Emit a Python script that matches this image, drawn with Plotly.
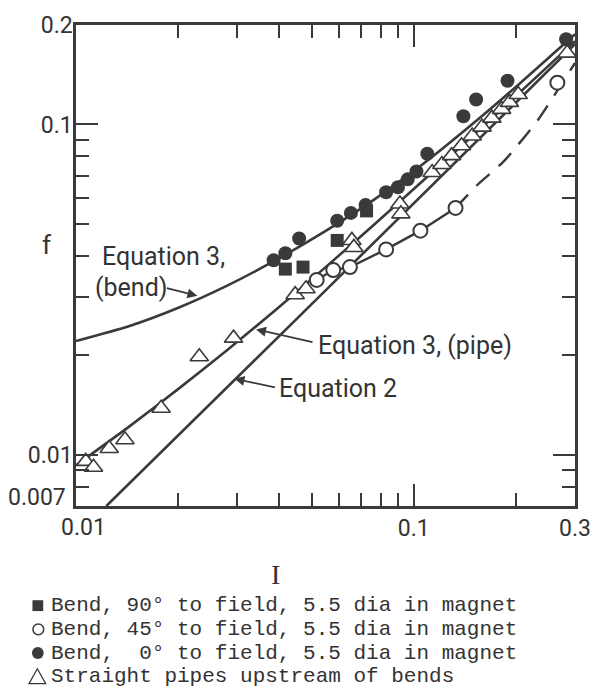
import plotly.graph_objects as go

# ------------------------------------------------------------------ data
# Bend, 90 deg to field (filled squares)
bend90_I = [0.04166, 0.04699, 0.05932, 0.07246]
bend90_f = [0.03649, 0.03700, 0.04456, 0.05474]

# Bend, 45 deg to field (open circles)
bend45_I = [0.05158, 0.05776, 0.06470, 0.08279, 0.1046, 0.1329, 0.2660]
bend45_f = [0.03384, 0.03624, 0.03700, 0.04186, 0.04770, 0.05589, 0.1338]

# dashed continuation of the 45 deg trend
bend45_dash_I = [0.1329, 0.1550, 0.1843, 0.2328, 0.2625, 0.3]
bend45_dash_f = [0.05589, 0.06592, 0.07719, 0.1030, 0.1240, 0.1535]

# Bend, 0 deg to field (filled circles)
bend0_I = [0.03846, 0.04166, 0.04576, 0.05932, 0.06513, 0.07198, 0.08279, 0.08974,
           0.09590, 0.1018, 0.1096, 0.1402, 0.1529, 0.1894, 0.2824]
bend0_f = [0.03882, 0.04074, 0.04516, 0.05111, 0.05398, 0.05704, 0.06237, 0.06457,
           0.06820, 0.07206, 0.08157, 0.1059, 0.1190, 0.1356, 0.1810]

# Straight pipes upstream of bends (open triangles)
pipe_I = [0.01069, 0.01127, 0.01254, 0.01396, 0.01786, 0.02317, 0.02926, 0.04455,
          0.04794, 0.06557, 0.06645, 0.09095, 0.09156, 0.1133, 0.1211, 0.1294,
          0.1384, 0.1489, 0.1592, 0.1702, 0.1819, 0.1919, 0.2037, 0.2843]
pipe_f = [0.009551, 0.009167, 0.01045, 0.01111, 0.01384, 0.01980, 0.02255, 0.03053,
          0.03181, 0.04456, 0.04244, 0.05744, 0.05362, 0.07156, 0.07562, 0.08046,
          0.08618, 0.09228, 0.09818, 0.1045, 0.1111, 0.1166, 0.1232, 0.1644]

# Curves
curve_I = [0.01, 0.01433, 0.02001, 0.02793, 0.03898, 0.05440, 0.07593, 0.1060,
           0.1479, 0.2064, 0.3]
eq3_bend_f = [0.02210, 0.02450, 0.02782, 0.03246, 0.03882, 0.04738, 0.05904,
              0.07562, 0.09956, 0.1333, 0.1874]
eq3_pipe_f = [0.009294, 0.01215, 0.01578, 0.02070, 0.02744, 0.03674, 0.04955,
              0.06727, 0.09165, 0.1253, 0.1786]
eq2_I = [0.01230, 0.04455, 0.3]
eq2_f = [0.007, 0.02552, 0.1749]

# Axis ticks
x_major = [0.01, 0.1, 0.3]
x_major_text = ["", "0.1", "0.3"]
x_minor = [0.02, 0.03, 0.04, 0.05, 0.06, 0.07, 0.08, 0.09, 0.2]
y_major = [0.007, 0.01, 0.1, 0.2]
y_major_text = ["", "0.01", "0.1", "0.2"]
y_minor = [0.008, 0.009, 0.02, 0.03, 0.04, 0.05, 0.06, 0.07, 0.08, 0.09]

legend_labels = [
    "Bend, 90\u00b0 to field, 5.5 dia in magnet",
    "Bend, 45\u00b0 to field, 5.5 dia in magnet",
    "Bend,\u00a0 0\u00b0 to field, 5.5 dia in magnet",
    "Straight pipes upstream of bends",
]

# ------------------------------------------------------------------ style / geometry
INK = "#3a3a3a"
FIG_W, FIG_H = 603, 689
L, R, T, B = 76, 586, 18.5, 506


def px(x):
    return (x - L) / (R - L)


def py(y):
    return (B - y) / (B - T)


SANS = "Roboto"
fig = go.Figure()

# curves
fig.add_trace(go.Scatter(x=curve_I, y=eq3_bend_f, mode="lines",
                         line=dict(color=INK, width=2.6, shape="spline", smoothing=0.6),
                         hoverinfo="skip"))
fig.add_trace(go.Scatter(x=curve_I, y=eq3_pipe_f, mode="lines",
                         line=dict(color=INK, width=2.6, shape="spline", smoothing=0.6),
                         hoverinfo="skip"))
fig.add_trace(go.Scatter(x=eq2_I, y=eq2_f, mode="lines",
                         line=dict(color=INK, width=2.6), hoverinfo="skip"))
# 45 deg trend line (solid through points, dashed beyond)
fig.add_trace(go.Scatter(x=bend45_I[:6], y=bend45_f[:6], mode="lines",
                         line=dict(color=INK, width=2.4), hoverinfo="skip"))
fig.add_trace(go.Scatter(x=bend45_dash_I, y=bend45_dash_f, mode="lines",
                         line=dict(color=INK, width=2.4, dash="18px,12px",
                                   shape="spline", smoothing=0.6),
                         hoverinfo="skip"))

# markers
fig.add_trace(go.Scatter(x=pipe_I, y=pipe_f, mode="markers", name="Straight pipes",
                         marker=dict(symbol="triangle-up", size=16, color="white",
                                     line=dict(color=INK, width=1.6))))
fig.add_trace(go.Scatter(x=bend45_I, y=bend45_f, mode="markers", name="Bend 45",
                         marker=dict(symbol="circle", size=14, color="white",
                                     line=dict(color=INK, width=2))))
fig.add_trace(go.Scatter(x=bend90_I, y=bend90_f, mode="markers", name="Bend 90",
                         marker=dict(symbol="square", size=13, color=INK,
                                     line=dict(width=0))))
fig.add_trace(go.Scatter(x=bend0_I, y=bend0_f, mode="markers", name="Bend 0",
                         marker=dict(symbol="circle", size=14, color=INK,
                                     line=dict(width=0))))

axis_common = dict(
    type="log", showline=True, linecolor=INK, linewidth=2.5, mirror="allticks",
    ticks="inside", ticklen=22, tickwidth=2, tickcolor=INK, showgrid=False,
    zeroline=False, tickfont=dict(family=SANS, size=23, color="#333"),
)

fig.update_layout(
    width=FIG_W, height=FIG_H,
    margin=dict(l=L, r=FIG_W - R, t=T, b=FIG_H - B),
    paper_bgcolor="white", plot_bgcolor="white",
    showlegend=False,
    xaxis=dict(axis_common, range=[-2, -0.52288], tickmode="array",
               tickvals=x_major, ticktext=x_major_text, ticklabelstandoff=0,
               minor=dict(tickmode="array", tickvals=x_minor, ticks="inside",
                          ticklen=13, tickwidth=2, tickcolor=INK, showgrid=False)),
    yaxis=dict(axis_common, range=[-2.15490, -0.69897], tickmode="array",
               tickvals=y_major, ticktext=y_major_text, ticklabelstandoff=-4,
               minor=dict(tickmode="array", tickvals=y_minor, ticks="inside",
                          ticklen=13, tickwidth=2, tickcolor=INK, showgrid=False)),
)

ann = []


def text(xp, yp, s, size=25, xanchor="left", family=SANS, color="#333"):
    ann.append(dict(xref="paper", yref="paper", x=px(xp), y=py(yp), text=s,
                    showarrow=False, xanchor=xanchor, yanchor="middle",
                    font=dict(family=family, size=size, color=color)))


def arrow(tipx, tipy, tailx, taily):
    ann.append(dict(xref="paper", yref="paper", x=px(tipx), y=py(tipy), text=" ",
                    showarrow=True, ax=tailx - tipx, ay=taily - tipy,
                    arrowhead=2, arrowsize=1.1, arrowwidth=1.8, arrowcolor=INK,
                    font=dict(size=1)))


# irregular tick labels
text(84, 528, "0.01", size=23, xanchor="center")
text(68, 497, "0.007", size=23, xanchor="right")
# axis titles
text(46, 241, "f", size=26, xanchor="center")
text(280, 575, "I", size=28, xanchor="center", family="Liberation Serif")
# curve labels
text(101, 253, "Equation 3,")
text(93, 285, "(bend)")
arrow(200, 293, 168, 285)
text(321, 343, "Equation 3, (pipe)")
arrow(260, 327, 318, 340)
text(281, 387, "Equation 2")
arrow(238, 377, 280, 386)

# legend
leg_y = [607, 631, 655, 679]
for yy, lab in zip(leg_y, legend_labels):
    text(48, yy, lab, size=21, family="Liberation Mono", color="#333")

fig.update_layout(annotations=ann)

shapes = []
# filled square
shapes.append(dict(type="rect", xref="paper", yref="paper",
                   x0=px(31.5), x1=px(42.5), y0=py(612.5), y1=py(601.5),
                   fillcolor=INK, line=dict(width=0)))
# open circle
shapes.append(dict(type="circle", xref="paper", yref="paper",
                   x0=px(32), x1=px(43), y0=py(636.5), y1=py(625.5),
                   fillcolor="white", line=dict(color=INK, width=1.5)))
# filled circle
shapes.append(dict(type="circle", xref="paper", yref="paper",
                   x0=px(31), x1=px(43), y0=py(661), y1=py(649),
                   fillcolor=INK, line=dict(width=0)))
# open triangle
shapes.append(dict(type="path", xref="paper", yref="paper",
                   path=f"M {px(28)} {py(686)} L {px(45)} {py(686)} L {px(36.5)} {py(671)} Z",
                   fillcolor="white", line=dict(color=INK, width=1.3)))
fig.update_layout(shapes=shapes)

fig.write_html("out.html")
